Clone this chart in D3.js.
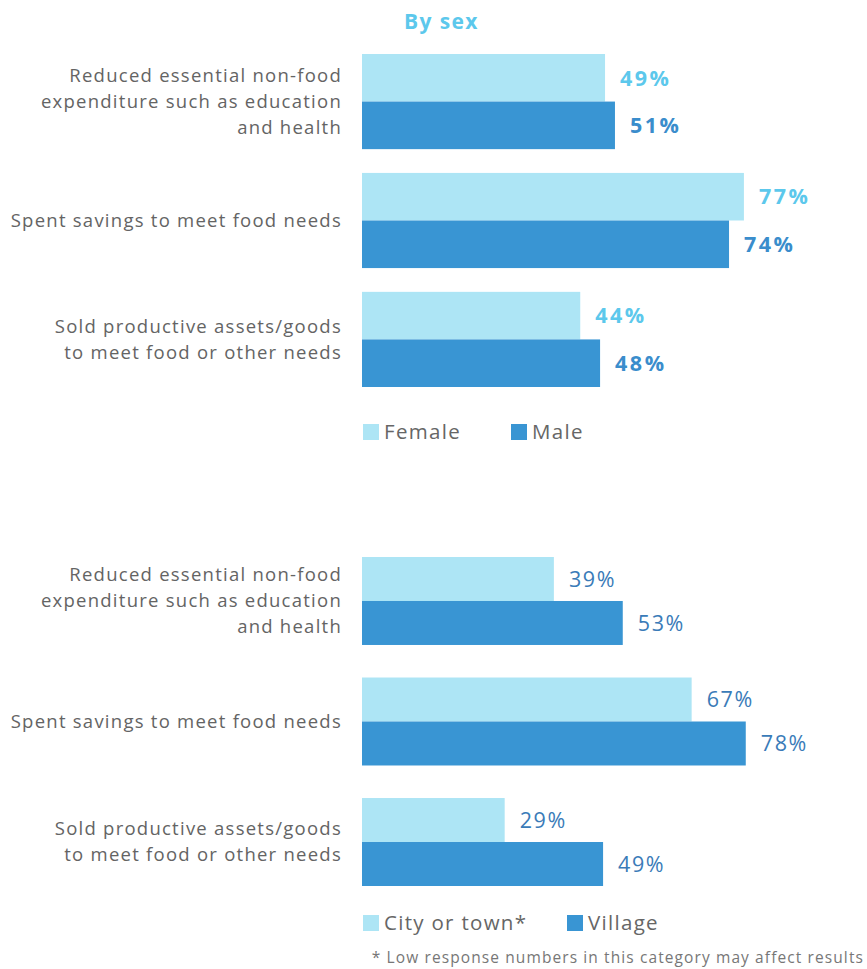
<!DOCTYPE html>
<html><head><meta charset="utf-8">
<script src="https://cdn.jsdelivr.net/npm/d3@7"></script>
<style>body{margin:0;background:#fff}svg{display:block}</style>
</head><body>
<svg id="c" width="867" height="969"></svg>
<script>
const categories = [
  ["Reduced essential non-food", "expenditure such as education", "and health"],
  ["Spent savings to meet food needs"],
  ["Sold productive assets/goods", "to meet food or other needs"]
];
const sexSeries = ["Female", "Male"];
const femaleValues = [49, 77, 44];
const maleValues = [51, 74, 48];
const locSeries = ["City or town*", "Village"];
const cityValues = [39, 67, 29];
const villageValues = [53, 78, 49];
const title = "By sex";
const footnote = "* Low response numbers in this category may affect results";

const svg = d3.select("#c");
const FONT = "'Open Sans', Lato, sans-serif";
const light = "#ADE5F5", dark = "#3995D3";

svg.append("text").attr("x", 404).attr("y", 29).text(title)
  .attr("font-family", FONT).attr("font-weight", 700).attr("font-size", 21)
  .attr("letter-spacing", 1.4).attr("fill", "#5CC8EC");

function panel(y0, y1, pad, xEnd, series, vals, bold, labelColors, legendY, legendX2) {
  const x = d3.scaleLinear().domain([0, 100]).range([362, xEnd]);
  const idx = d3.range(categories.length);
  const y = d3.scaleBand().domain(idx).range([y0, y1]).paddingInner(pad).paddingOuter(0);
  const inner = d3.scaleBand().domain([0, 1]).range([0, y.bandwidth()]);
  const colors = [light, dark];
  const g = svg.append("g");
  idx.forEach(i => {
    const lines = categories[i];
    const cy = y(i) + y.bandwidth() / 2;
    const lh = 26;
    const t = g.append("text").attr("text-anchor", "end").attr("font-family", FONT)
      .attr("font-size", 18.5).attr("letter-spacing", 1.25).attr("fill", "#646464");
    lines.forEach((ln, k) => {
      t.append("tspan").attr("x", 342).attr("y", cy + (k - (lines.length - 1) / 2) * lh).attr("dy", "0.35em").text(ln);
    });
    [0, 1].forEach(s => {
      const v = vals[s][i];
      g.append("rect").attr("x", x(0)).attr("y", y(i) + inner(s))
        .attr("width", x(v) - x(0)).attr("height", inner.bandwidth()).attr("fill", colors[s]);
      g.append("text").attr("x", x(v) + 15).attr("y", y(i) + inner(s) + inner.bandwidth() / 2)
        .attr("dy", "0.36em").attr("font-family", FONT).attr("font-size", 21.5)
        .attr("letter-spacing", bold ? 2.5 : 1.6)
        .attr("font-weight", bold ? 700 : 400).attr("fill", labelColors[s]).text(v + "%");
    });
  });
  const lx = [363, legendX2];
  series.forEach((s, k) => {
    g.append("rect").attr("x", lx[k]).attr("y", legendY - 8).attr("width", 16).attr("height", 16).attr("fill", colors[k]);
    g.append("text").attr("x", lx[k] + 21).attr("y", legendY).attr("dy", "0.35em")
      .attr("font-family", FONT).attr("font-size", 20.5).attr("letter-spacing", 1.3)
      .attr("fill", "#666").text(s);
  });
}

panel(54, 387, 0.2, 858, sexSeries, [femaleValues, maleValues], true, ["#5CC8EC", "#3A8DCC"], 432, 511);
panel(557, 886, 0.27, 854, locSeries, [cityValues, villageValues], false, ["#3A7BB8", "#3A7BB8"], 923, 567);

svg.append("text").attr("x", 864).attr("y", 958).attr("dy", "0.35em").attr("text-anchor", "end")
  .attr("font-family", FONT).attr("font-size", 15.5).attr("letter-spacing", 1.1)
  .attr("fill", "#777").text(footnote);
</script>
</body></html>
